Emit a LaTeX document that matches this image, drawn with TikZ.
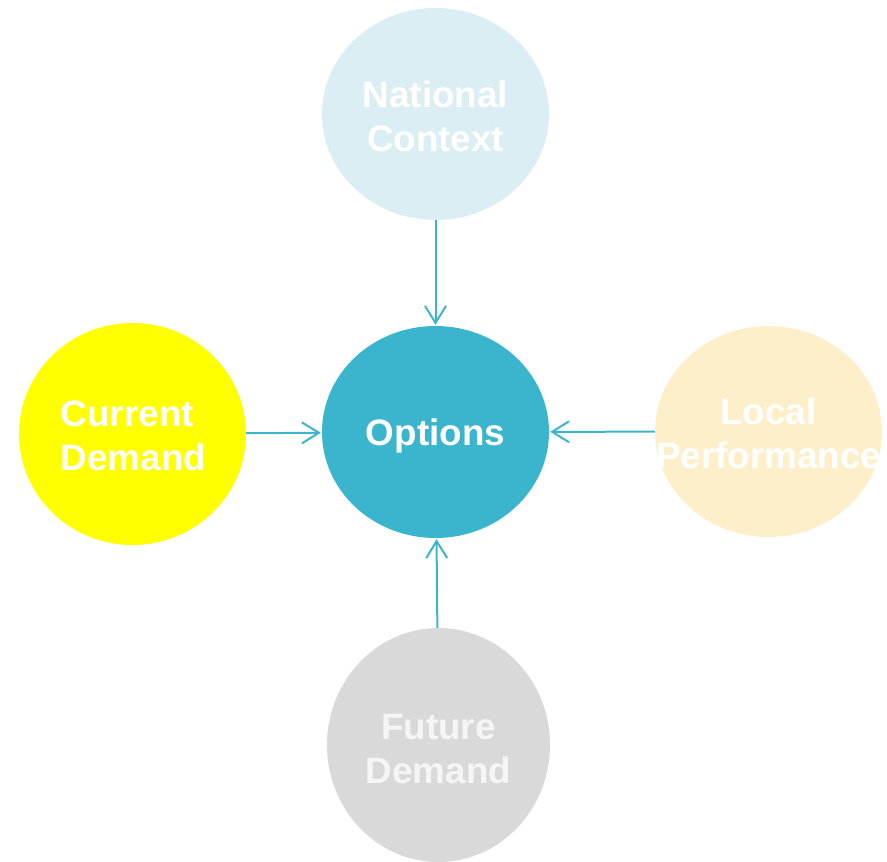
\documentclass[tikz,border=0pt]{standalone}
\usepackage{fontspec}
\setmainfont{Liberation Sans}
\usetikzlibrary{shapes.geometric,arrows.meta}
\definecolor{natc}{HTML}{DAEEF3}
\definecolor{optc}{HTML}{3BB5CE}
\definecolor{curc}{HTML}{FFFF00}
\definecolor{locc}{HTML}{FEEFCB}
\definecolor{futc}{HTML}{D9D9D9}
\definecolor{arrc}{HTML}{3BB5CE}
\tikzset{
  blob/.style={ellipse, inner sep=0pt, draw=none},
  lbl/.style={align=center, text=white, font=\bfseries\fontsize{36.8}{44}\selectfont, inner sep=0pt},
  arr/.style={draw=arrc, line width=2pt, -{Straight Barb[length=17pt, width=21pt, line width=2pt]}, shorten >=1pt}
}
\begin{document}
\begin{tikzpicture}[x=1pt,y=1pt]
\useasboundingbox (0,0) rectangle (887,-862);
\clip (0,0) rectangle (887,-862);
\node[blob, fill=natc, minimum width=227pt, minimum height=212pt] (nat) at (435.5,-114) {};
\node[blob, fill=optc, minimum width=227pt, minimum height=212pt] (opt) at (435.5,-432) {};
\node[blob, fill=curc, minimum width=227pt, minimum height=222pt] (cur) at (132.5,-434) {};
\node[blob, fill=locc, minimum width=227pt, minimum height=211pt] (loc) at (768.5,-431.5) {};
\node[blob, fill=futc, minimum width=223pt, minimum height=234pt] (fut) at (438.5,-745) {};
\node[lbl] (natt) at (435.5,-116) {National\\Context};
\node[lbl] (optt) at (435.5,-436) {Options};
\node[lbl, align=left] (curt) at (133.5,-436) {Current\\Demand};
\node[lbl] (loct) at (768.5,-433) {Local\\Performance};
\node[lbl, text=white!96!black] (futt) at (438.5,-749) {Future\\Demand};
\draw[arr] (nat) -- (opt);
\draw[arr] (cur) -- (opt);
\draw[arr] (loc) -- (opt);
\draw[arr] (fut) -- (opt);
\end{tikzpicture}
\end{document}
